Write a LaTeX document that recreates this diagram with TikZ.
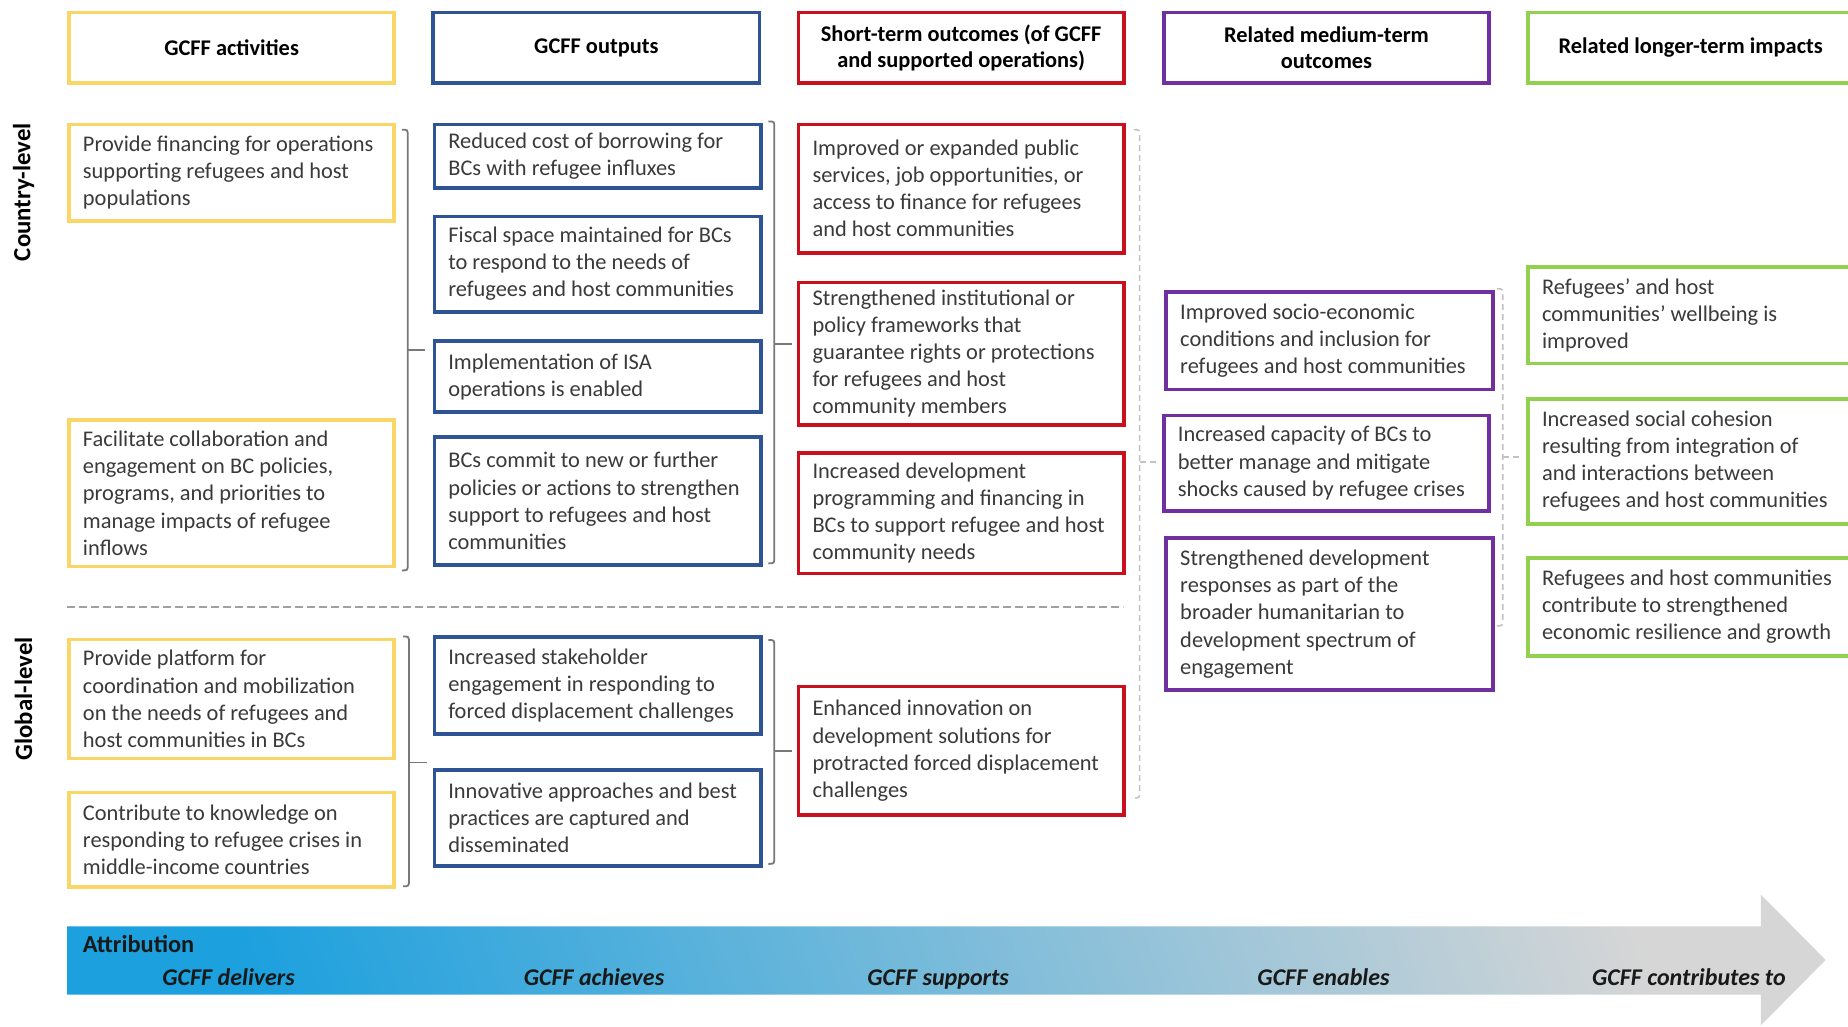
\documentclass[tikz,border=0pt]{standalone}
\usepackage{fontspec}
\setmainfont{Carlito}
\definecolor{cyel}{RGB}{250,214,102}
\definecolor{cblu}{RGB}{47,84,150}
\definecolor{cred}{RGB}{200,16,30}
\definecolor{cpur}{RGB}{112,48,160}
\definecolor{cgrn}{RGB}{146,208,80}
\definecolor{ctxt}{RGB}{58,58,58}
\definecolor{cbrk}{RGB}{120,120,120}
\definecolor{cdash}{RGB}{195,195,195}
\definecolor{csep}{RGB}{160,160,160}
\definecolor{arrL}{RGB}{28,160,222}
\definecolor{arrR}{RGB}{214,214,214}
\newcommand\ebox[7]{%
  \node[box,#2,minimum width={(#5-#3-2)*0.5893pt},minimum height={(#6-#4-2)*0.5893pt},anchor=north west] (#1) at (#3+1,#4+1) {};
  \node[txt,anchor=west] (#1t) at ([xshift=7.7pt]#1.west) {#7};}
\newcommand\hbx[7]{%
  \node[box,hdr,#2,minimum width={(#5-#3-2)*0.5893pt},minimum height={(#6-#4-2)*0.5893pt},anchor=north west] (#1) at (#3+1,#4+1) {#7};}
\newcommand\brk[6]{%
  \coordinate (#1a) at (#2-5,#3);
  \coordinate (#1b) at (#2-5,#4);
  \coordinate (#1m) at (#2,#5);
  \coordinate (#1e) at (#2+15,#5);
  \draw[#6] (#1a) .. controls (#2,#3) .. (#2,#3+6) -- (#2,#4-6) .. controls (#2,#4) .. (#1b);
  \draw[#6] (#1m) -- (#1e);}
\begin{document}
\begin{tikzpicture}[x=0.5893pt,y=-0.5893pt,
  box/.style={draw,line width=1.8pt,fill=white,inner sep=0pt},
  txt/.style={align=left,text=ctxt,font=\fontsize{11.2}{13.55}\selectfont,inner sep=0pt},
  hdr/.style={align=center,text=black,font=\bfseries\fontsize{11.2}{13}\selectfont},
  yel/.style={draw=cyel},
  blu/.style={draw=cblu},
  red/.style={draw=cred},
  pur/.style={draw=cpur},
  grn/.style={draw=cgrn},
  brsolid/.style={draw=cbrk,line width=0.9pt},
  brdash/.style={draw=cdash,line width=0.8pt,dash pattern=on 3pt off 2pt},
  side/.style={rotate=90,text=black,font=\bfseries\fontsize{12.4}{14}\selectfont},
  arrlab/.style={anchor=base,inner sep=0pt,text=black!90,font=\bfseries\itshape\fontsize{12}{14}\selectfont}]
\useasboundingbox (0,0) rectangle (1568,871);
\clip (0,0) rectangle (1568,871);
\fill[white] (0,0) rectangle (1568,871);

% headers
\hbx{H1}{yel}{56}{8}{334}{70}{GCFF activities}
\hbx{H2}{blu}{365}{8}{644}{70}{GCFF outputs}
\hbx{H3}{red}{675}{8}{953}{70}{Short-term outcomes (of GCFF\\and supported operations)}
\hbx{H4}{pur}{985}{8}{1263}{70}{Related medium-term\\outcomes}
\hbx{H5}{grn}{1294}{8}{1572}{70}{Related longer-term impacts}

% side labels
\node[side] (CL) at (20,163) {Country-level};
\node[side] (GL) at (20,593) {Global-level};

% activities
\ebox{A1}{yel}{56}{103}{334}{187}{Provide financing for operations\\supporting refugees\ and host\\populations}
\ebox{A2}{yel}{56}{354}{334}{480}{Facilitate collaboration and\\engagement on BC policies,\\programs, and priorities to\\manage impacts of refugee\\inflows}
\ebox{A3}{yel}{56}{540}{334}{643}{Provide platform for\\coordination and mobilization\\on the needs of refugees and\\host communities in BCs}
\ebox{A4}{yel}{56}{670}{334}{752}{Contribute to knowledge on\\responding to refugee crises in\\middle-income countries}

% outputs
\ebox{O1}{blu}{366}{103}{645}{159}{Reduced cost of borrowing for\\BCs with refugee influxes}
\ebox{O2}{blu}{366}{181}{645}{264}{Fiscal space maintained for BCs\\to respond to the needs of\\refugees and host communities}
\ebox{O3}{blu}{366}{287}{645}{349}{Implementation of ISA\\operations is enabled}
\ebox{O4}{blu}{366}{368}{645}{479}{BCs commit to new or further\\policies or actions to strengthen\\support to refugees\ and host\\communities}
\ebox{O5}{blu}{366}{538}{645}{622}{Increased stakeholder\\engagement in responding to\\forced displacement challenges}
\ebox{O6}{blu}{366}{651}{645}{734}{Innovative approaches and best\\practices are captured and\\disseminated}

% short-term
\ebox{S1}{red}{675}{103}{953}{214}{Improved or expanded public\\services, job opportunities, or\\access to finance for refugees\\and host communities}
\ebox{S2}{red}{675}{237}{953}{360}{Strengthened institutional or\\policy frameworks that\\guarantee rights or protections\\for refugees and host\\community members}
\ebox{S3}{red}{675}{382}{953}{486}{Increased development\\programming and financing in\\BCs to support refugee and host\\community needs}
\ebox{S4}{red}{675}{580}{953}{691}{Enhanced innovation on\\development solutions for\\protracted forced displacement\\challenges}

% medium-term
\ebox{M1}{pur}{987}{245}{1266}{330}{Improved socio-economic\\conditions and inclusion for\\refugees and host communities}
\ebox{M2}{pur}{985}{350}{1263}{433}{Increased capacity of BCs to\\better manage and mitigate\\shocks caused by refugee crises}
\ebox{M3}{pur}{987}{454}{1266}{585}{Strengthened development\\responses as part of the\\broader humanitarian to\\development spectrum of\\engagement}

% longer-term
\ebox{L1}{grn}{1294}{224}{1572}{308}{Refugees’ and host\\communities’ wellbeing is\\improved}
\ebox{L2}{grn}{1294}{336}{1572}{444}{Increased social cohesion\\resulting from integration of\\and interactions between\\refugees and host communities}
\ebox{L3}{grn}{1294}{471}{1572}{556}{Refugees and host communities\\contribute to strengthened\\economic resilience and growth}

% brackets
\brk{B1}{346}{110}{484}{297}{brsolid}
\brk{B2}{657}{103}{478}{292}{brsolid}
\brk{B3}{347}{540}{752}{647}{brsolid}
\brk{B4}{657}{543}{733}{637}{brsolid}
\brk{B5}{967}{110}{677}{392}{brdash}
\brk{B6}{1275}{245}{531}{388}{brdash}

% separator
\coordinate (sepL) at (57,515);
\coordinate (sepR) at (953,515);
\draw[csep,line width=1.1pt,dash pattern=on 4pt off 2pt] (sepL) -- (sepR);

% attribution arrow
\shade[left color=arrL,right color=arrR,shading angle=110]
  (57,786) -- (1494,786) -- (1494,759) -- (1549,814.5) -- (1494,870) -- (1494,844) -- (57,844) -- cycle;
\node[anchor=base west,inner sep=0pt,text=black!90,font=\bfseries\fontsize{12.2}{14}\selectfont] (ATT) at (70,808) {Attribution};
\node[arrlab] (T1) at (194,836) {GCFF delivers};
\node[arrlab] (T2) at (504,836) {GCFF achieves};
\node[arrlab] (T3) at (796,836) {GCFF supports};
\node[arrlab] (T4) at (1123,836) {GCFF enables};
\node[arrlab] (T5) at (1433,836) {GCFF contributes to};
\end{tikzpicture}
\end{document}
